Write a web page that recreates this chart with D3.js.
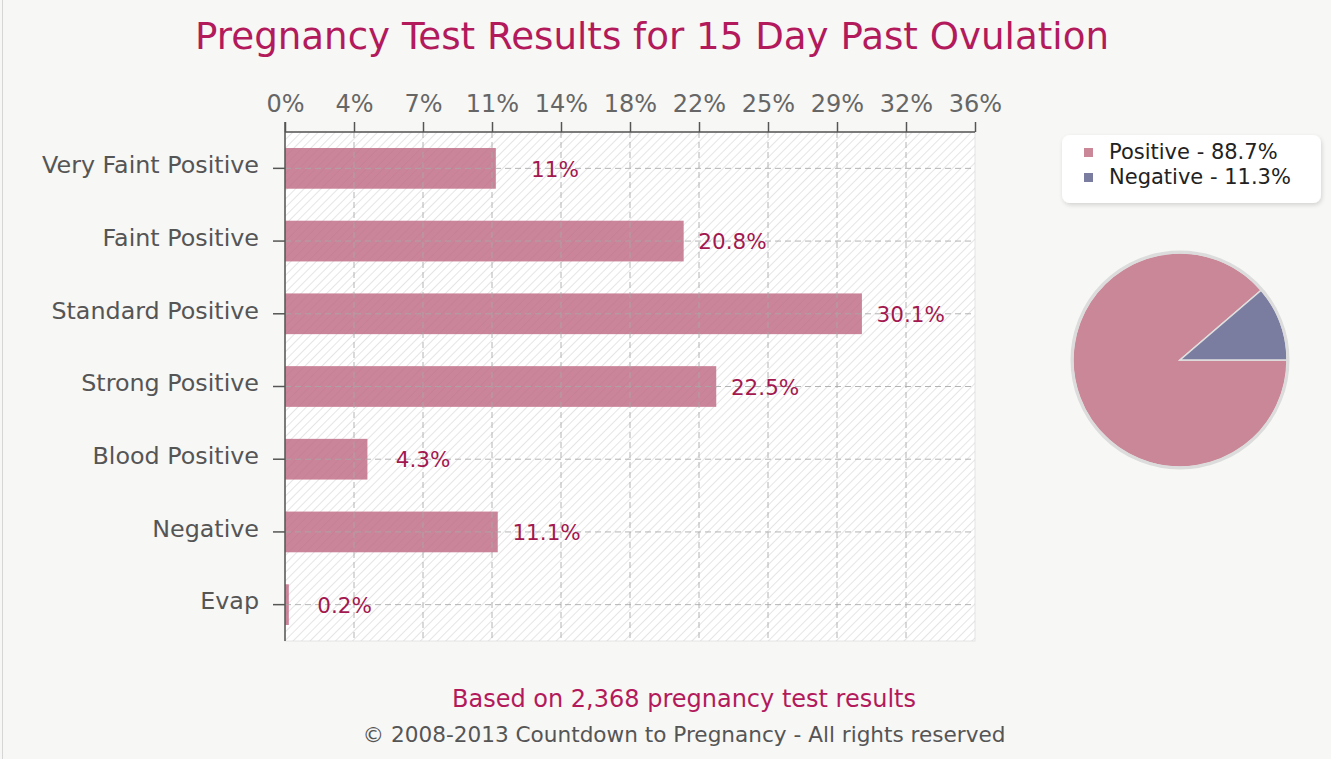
<html>
    <head>
        <script src="https://d3js.org/d3.v7.min.js"></script>
        <style>
            body { margin:0; background:#f7f7f5; }
            text { font-family:"DejaVu Sans", Verdana, sans-serif; }
            .grid line { stroke:#a8a8a8; stroke-dasharray:6,4; stroke-width:1px; opacity:0.85; }
            .axis path, .axis line { stroke:#555; stroke-width:1.5px; }
            .tick-label { fill:#666; font-size:24px; }
            .cat-label { fill:#555; font-size:23.8px; }
            .val-label { fill:#a3184f; font-size:21.5px; }
        </style>
    </head>
    <body>
        <svg id="chart" width="1331" height="759"></svg>
        <script>
            const categories = ["Very Faint Positive", "Faint Positive", "Standard Positive", "Strong Positive", "Blood Positive", "Negative", "Evap"];
            const values = [11, 20.8, 30.1, 22.5, 4.3, 11.1, 0.2];
            const tickLabels = ["0%", "4%", "7%", "11%", "14%", "18%", "22%", "25%", "29%", "32%", "36%"];
            const xMax = 36;
            const pieLabels = ["Positive", "Negative"];
            const pieValues = [88.7, 11.3];
            const pieColors = ["#c98797", "#7a7d9f"];

            const svg = d3.select("#chart");
            const plot = {left:285, right:975, top:132, bottom:641};

            // hatch pattern
            const defs = svg.append("defs");
            const pat = defs.append("pattern")
                .attr("id", "hatch").attr("patternUnits", "userSpaceOnUse")
                .attr("width", 6).attr("height", 6)
                .attr("patternTransform", "rotate(45)");
            pat.append("line").attr("x1", 0).attr("y1", 0).attr("x2", 0).attr("y2", 6)
                .attr("stroke", "#d4d4d4").attr("stroke-width", 1.2);
            const shadow = defs.append("filter").attr("id", "shadow")
                .attr("x", "-10%").attr("y", "-20%").attr("width", "130%").attr("height", "150%");
            shadow.append("feDropShadow").attr("dx", 1).attr("dy", 2).attr("stdDeviation", 2)
                .attr("flood-color", "#000").attr("flood-opacity", 0.15);

            svg.append("line").attr("x1", 2.5).attr("x2", 2.5).attr("y1", 0).attr("y2", 759)
                .attr("stroke", "#d6d6d6");

            const x = d3.scaleLinear().domain([0, xMax]).range([plot.left, plot.right]);
            const y = d3.scaleBand().domain(categories).range([plot.top, plot.bottom])
                .paddingInner(0.44).paddingOuter(0.22);
            const tickVals = tickLabels.map((d, i) => i * xMax / (tickLabels.length - 1));

            // plot background
            svg.append("rect").attr("x", plot.left).attr("y", plot.top)
                .attr("width", plot.right - plot.left).attr("height", plot.bottom - plot.top)
                .attr("fill", "#fff").attr("stroke", "#e4e4e4");
            svg.append("rect").attr("x", plot.left).attr("y", plot.top)
                .attr("width", plot.right - plot.left).attr("height", plot.bottom - plot.top)
                .attr("fill", "url(#hatch)");

            // bars
            svg.selectAll(".bar").data(values).enter()
                .append("rect")
                .attr("class", "bar")
                .attr("x", x(0))
                .attr("y", (d, i) => y(categories[i]))
                .attr("width", d => x(d) - x(0))
                .attr("height", y.bandwidth())
                .attr("fill", "#c06a84")
                .attr("fill-opacity", 0.82);

            // grid
            const grid = svg.append("g").attr("class", "grid");
            grid.selectAll(".vg").data(tickVals.slice(1, -1)).enter()
                .append("line")
                .attr("x1", d => x(d)).attr("x2", d => x(d))
                .attr("y1", plot.top).attr("y2", plot.bottom);
            grid.selectAll(".hg").data(categories).enter()
                .append("line")
                .attr("x1", plot.left).attr("x2", plot.right)
                .attr("y1", d => y(d) + y.bandwidth() / 2).attr("y2", d => y(d) + y.bandwidth() / 2);

            // top axis
            const xAxis = d3.axisTop(x).tickValues(tickVals).tickSize(10).tickSizeOuter(0).tickPadding(10)
                .tickFormat((d, i) => tickLabels[i]);
            const gx = svg.append("g").attr("class", "axis").attr("transform", "translate(0," + plot.top + ")").call(xAxis);
            gx.selectAll("text").attr("class", "tick-label").attr("font-size", null).attr("fill", null);
            gx.select(".domain").attr("d", "M" + plot.left + ",0H" + plot.right);

            // left axis
            const yAxis = d3.axisLeft(y).tickSize(12).tickSizeOuter(0).tickPadding(14);
            const gy = svg.append("g").attr("class", "axis").attr("transform", "translate(" + plot.left + ",0)").call(yAxis);
            gy.selectAll("text").attr("class", "cat-label").attr("font-size", null).attr("fill", null).attr("dy", "0.2em");
            gy.select(".domain").attr("d", "M0," + (plot.top - 10) + "V" + plot.bottom);

            // value labels
            svg.selectAll(".val-label").data(values).enter()
                .append("text")
                .attr("class", "val-label")
                .attr("x", d => x(d) + 83)
                .attr("y", (d, i) => y(categories[i]) + y.bandwidth() / 2)
                .attr("dy", "0.38em")
                .attr("text-anchor", "end")
                .text(d => d + "%");

            // title + footer
            svg.append("text").attr("x", 652).attr("y", 49).attr("text-anchor", "middle")
                .attr("fill", "#b31a5c").attr("font-size", 37.2)
                .text("Pregnancy Test Results for 15 Day Past Ovulation");
            svg.append("text").attr("x", 684).attr("y", 707).attr("text-anchor", "middle")
                .attr("fill", "#b31a5c").attr("font-size", 24)
                .text("Based on 2,368 pregnancy test results");
            svg.append("text").attr("x", 684).attr("y", 742).attr("text-anchor", "middle")
                .attr("fill", "#555").attr("font-size", 21.6)
                .text("© 2008-2013 Countdown to Pregnancy - All rights reserved");

            // legend
            const lg = svg.append("g");
            lg.append("rect").attr("x", 1062).attr("y", 135).attr("width", 259).attr("height", 68)
                .attr("rx", 8).attr("fill", "#fff").attr("filter", "url(#shadow)");
            pieLabels.forEach((lab, i) => {
                lg.append("rect").attr("x", 1084).attr("y", 148 + i * 25).attr("width", 9).attr("height", 9)
                    .attr("fill", pieColors[i]);
                lg.append("text").attr("x", 1109).attr("y", 159 + i * 25)
                    .attr("fill", "#222").attr("font-size", 21)
                    .text(lab + " - " + pieValues[i] + "%");
            });

            // pie
            const pie = d3.pie().sort(null).startAngle(Math.PI / 2).endAngle(Math.PI / 2 + 2 * Math.PI);
            const arc = d3.arc().innerRadius(0).outerRadius(107);
            const pg = svg.append("g").attr("transform", "translate(1180,360)");
            pg.selectAll("path").data(pie(pieValues)).enter()
                .append("path")
                .attr("d", arc)
                .attr("fill", (d, i) => pieColors[i])
                .attr("stroke", "#e0e0e0").attr("stroke-width", 1.5);
            pg.append("circle").attr("r", 108).attr("fill", "none").attr("stroke", "#dcdcdc").attr("stroke-width", 3);
        </script>
    </body>
</html>
